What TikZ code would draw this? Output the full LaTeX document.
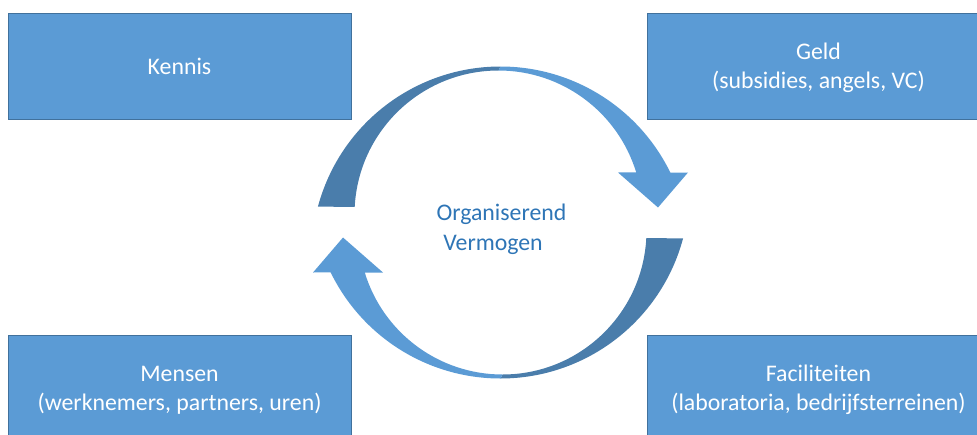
\documentclass[tikz,border=0pt]{standalone}
\usepackage{fontspec}
\setmainfont{Carlito}
\definecolor{boxblue}{HTML}{5B9BD5}
\definecolor{boxline}{HTML}{41719C}
\definecolor{arrowdark}{HTML}{4A7DAB}
\definecolor{textblue}{HTML}{2E75B6}
\begin{document}
\begin{tikzpicture}[x=1pt,y=-1pt,block/.style={shape=rectangle,draw=boxline,fill=boxblue,line width=0.8pt,minimum width=343pt,minimum height=106pt,text=white,align=center,text depth=0pt,font=\fontsize{23.8}{29}\selectfont},tail/.style={fill=arrowdark},head/.style={fill=boxblue}]
\def\ro{189};
\def\ri{144};

\clip (0,0) rectangle (977,434);

\node[block] (kennis) at (179.5,66) {Kennis};
\node[block] (geld) at (818.5,66) {Geld\\(subsidies, angels, VC)};
\node[block] (mensen) at (179.5,388) {Mensen\\(werknemers, partners, uren)};
\node[block] (facil) at (818.5,388) {Faciliteiten\\(laboratoria, bedrijfsterreinen)};

\foreach \rot in {0,180}{
\begin{scope}[shift={(500.5,222.5)},rotate=\rot]
\fill[tail] ([shift={(195:\ro)}]0,33) arc[start angle=195,end angle=270,radius=\ro]
  -- ([shift={(270:\ri)}]-2,-8) arc[start angle=270,end angle=183,radius=\ri] -- cycle;
\fill[head] ([shift={(270:\ro)}]0,33) arc[start angle=270,end angle=334,radius=\ro]
  -- (187.5,-50) -- (157.5,-15) -- (117.5,-50)
  -- ([shift={(343:\ri)}]-2,-8) arc[start angle=343,end angle=270,radius=\ri] -- cycle;
\end{scope}
}

\node[text=textblue,align=center,font=\fontsize{23.8}{30}\selectfont] (org) at (501.5,229) {Organiserend\\Vermogen\hspace*{17pt}};
\end{tikzpicture}
\end{document}
